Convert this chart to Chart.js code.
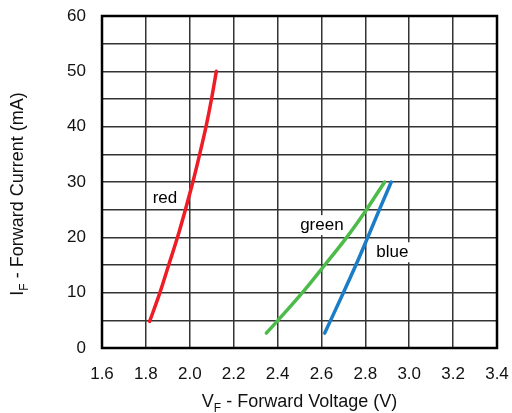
<!DOCTYPE html>
<html>
<head>
<meta charset="utf-8">
<script src="https://cdn.jsdelivr.net/npm/chart.js@4/dist/chart.umd.min.js"></script>
<style>
html,body{margin:0;padding:0;background:#fff;}
#wrap{width:512px;height:413px;}
</style>
</head>
<body>
<div id="wrap"><canvas id="c" width="512" height="413"></canvas></div>
<script>
// Forward voltage (V) / forward current (mA) pairs
const redV   = [1.817, 1.864, 1.904, 1.944, 1.980, 2.014, 2.045, 2.074, 2.099, 2.121];
const redI   = [4.8, 10, 15, 20, 25, 30, 35, 40, 45, 50];
const greenV = [2.349, 2.402, 2.513, 2.615, 2.715, 2.805, 2.888];
const greenI = [2.7, 5, 10, 15, 20, 25, 30];
const blueV  = [2.615, 2.700, 2.757, 2.811, 2.864, 2.918];
const blueI  = [2.7, 10, 15, 20, 25, 30];
const seriesNames = ['red', 'green', 'blue'];
const seriesColors = ['#ee1c25', '#4dbb4a', '#1b7dc8'];
// label anchor positions in data units
const labelV = [1.887, 2.602, 2.923];
const labelI = [27.0, 22.2, 17.3];
const xTicks = [1.6, 1.8, 2.0, 2.2, 2.4, 2.6, 2.8, 3.0, 3.2, 3.4];
const yTicks = [0, 10, 20, 30, 40, 50, 60];

function pts(v, i) { return v.map((x, k) => ({x: x, y: i[k]})); }

const FONT = 'Liberation Sans, Arial, sans-serif';

const framePlugin = {
  id: 'frame',
  beforeDatasetsDraw(chart) {
    const ctx = chart.ctx;
    ctx.save();
    ctx.font = '17px ' + FONT;
    ctx.textAlign = 'center';
    ctx.textBaseline = 'middle';
    const xs = chart.scales.x, ys = chart.scales.y;
    seriesNames.forEach((n, k) => {
      const px = xs.getPixelForValue(labelV[k]);
      const py = ys.getPixelForValue(labelI[k]);
      const w = ctx.measureText(n).width;
      ctx.fillStyle = '#fff';
      ctx.fillRect(px - w / 2 - 3, py - 10, w + 6, 20);
      ctx.fillStyle = '#000';
      ctx.fillText(n, px, py);
    });
    ctx.restore();
  },
  afterDraw(chart) {
    const ctx = chart.ctx, a = chart.chartArea;
    ctx.save();
    ctx.strokeStyle = '#000';
    ctx.lineWidth = 2.5;
    ctx.strokeRect(a.left, a.top, a.right - a.left, a.bottom - a.top);
    // axis titles with subscripts
    ctx.fillStyle = '#111';
    ctx.textBaseline = 'alphabetic';
    ctx.textAlign = 'left';
    function subTitle(main, sub, rest, x, y) {
      ctx.font = '18px ' + FONT;
      const w1 = ctx.measureText(main).width;
      const w3 = ctx.measureText(rest).width;
      ctx.font = '12px ' + FONT;
      const w2 = ctx.measureText(sub).width;
      const total = w1 + w2 + w3;
      let sx = x - total / 2;
      ctx.font = '18px ' + FONT;
      ctx.fillText(main, sx, y);
      ctx.font = '12px ' + FONT;
      ctx.fillText(sub, sx + w1, y + 5);
      ctx.font = '18px ' + FONT;
      ctx.fillText(rest, sx + w1 + w2, y);
    }
    subTitle('V', 'F', ' - Forward Voltage (V)', (a.left + a.right) / 2, 407);
    ctx.save();
    ctx.translate(23, 194);
    ctx.rotate(-Math.PI / 2);
    subTitle('I', 'F', ' - Forward Current (mA)', 0, 0);
    ctx.restore();
    ctx.restore();
  }
};

function zeroPad(s) {
  s.paddingLeft = 0; s.paddingRight = 0; s.paddingTop = 0; s.paddingBottom = 0;
}

new Chart(document.getElementById('c'), {
  type: 'scatter',
  data: {
    datasets: [
      {label: 'red', data: pts(redV, redI)},
      {label: 'green', data: pts(greenV, greenI)},
      {label: 'blue', data: pts(blueV, blueI)}
    ].map((d, k) => Object.assign(d, {
      showLine: true,
      borderColor: seriesColors[k],
      backgroundColor: seriesColors[k],
      borderWidth: 3.5,
      borderCapStyle: 'round',
      pointRadius: 0,
      cubicInterpolationMode: 'monotone'
    }))
  },
  options: {
    responsive: false,
    animation: false,
    devicePixelRatio: 1,
    layout: {padding: {left: 0, right: 15, top: 16, bottom: 0}},
    plugins: {legend: {display: false}, tooltip: {enabled: false}},
    scales: {
      x: {
        type: 'linear',
        min: xTicks[0], max: xTicks[xTicks.length - 1],
        afterBuildTicks: s => { s.ticks = xTicks.map(v => ({value: v})); },
        ticks: {
          color: '#111', font: {size: 17, family: FONT}, padding: 16,
          maxRotation: 0, autoSkip: false,
          callback: v => Number(v).toFixed(1)
        },
        grid: {color: '#333', lineWidth: 1.5, drawTicks: false},
        border: {display: false},
        afterFit: s => { s.height = 65; zeroPad(s); }
      },
      y: {
        type: 'linear',
        min: 0, max: 60,
        ticks: {
          stepSize: 5, autoSkip: false,
          color: '#111', font: {size: 17, family: FONT}, padding: 16,
          callback: v => (yTicks.includes(v) ? String(v) : '')
        },
        grid: {color: '#333', lineWidth: 1.5, drawTicks: false},
        border: {display: false},
        afterFit: s => { s.width = 102; zeroPad(s); }
      }
    }
  },
  plugins: [framePlugin]
});
</script>
</body>
</html>
